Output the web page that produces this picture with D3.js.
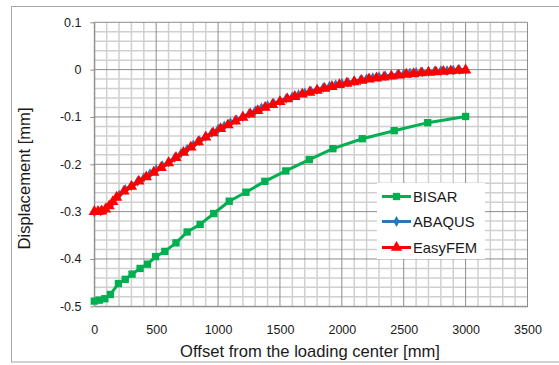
<!DOCTYPE html>
<html>
<head>
<meta charset="utf-8">
<script src="https://cdn.jsdelivr.net/npm/d3@7"></script>
<style>
  html, body { margin: 0; padding: 0; background: #fff; }
  svg { display: block; font-family: "Liberation Sans", Arial, sans-serif; }
</style>
</head>
<body>
<svg id="chart" width="559" height="365"></svg>
<script>
// Surface displacement vs. offset from the loading centre
const xTicks = [0, 500, 1000, 1500, 2000, 2500, 3000, 3500];
const yTicks = [0.1, 0, -0.1, -0.2, -0.3, -0.4, -0.5];

const bisarX = [0, 40, 85, 130, 195, 250, 305, 370, 430, 495, 570, 660, 750, 855, 965, 1090, 1225, 1378, 1547, 1737, 1928, 2165, 2423, 2694, 3000];
const bisarY = [-0.489, -0.487, -0.484, -0.475, -0.452, -0.443, -0.432, -0.420, -0.411, -0.395, -0.384, -0.366, -0.343, -0.327, -0.304, -0.278, -0.259, -0.236, -0.214, -0.190, -0.167, -0.146, -0.129, -0.112, -0.099];

const abaqusX = [0, 50, 100, 150, 200, 250, 300, 350, 400, 450, 500, 550, 600, 650, 700, 750, 800, 850, 900, 950, 1000, 1050, 1100, 1150, 1200, 1250, 1300, 1350, 1400, 1450, 1500, 1550, 1600, 1650, 1700, 1750, 1800, 1850, 1900, 1950, 2000, 2050, 2100, 2150, 2200, 2250, 2300, 2350, 2400, 2450, 2500, 2550, 2600, 2650, 2700, 2750, 2800, 2850, 2900, 2950, 3000];
const abaqusY = [-0.301, -0.299, -0.292, -0.279, -0.265, -0.253, -0.245, -0.236, -0.228, -0.220, -0.211, -0.203, -0.195, -0.186, -0.177, -0.168, -0.159, -0.150, -0.141, -0.133, -0.126, -0.119, -0.112, -0.106, -0.099, -0.093, -0.087, -0.081, -0.076, -0.071, -0.066, -0.061, -0.057, -0.053, -0.049, -0.045, -0.042, -0.038, -0.035, -0.032, -0.029, -0.027, -0.024, -0.022, -0.019, -0.017, -0.015, -0.013, -0.012, -0.010, -0.009, -0.007, -0.006, -0.005, -0.004, -0.003, -0.002, -0.002, -0.001, 0.000, 0.000];

const easyX = [0, 30, 60, 90, 120, 150, 180, 240, 300, 360, 420, 480, 540, 600, 660, 720, 780, 840, 900, 960, 1020, 1080, 1140, 1200, 1260, 1320, 1380, 1440, 1500, 1560, 1620, 1680, 1740, 1800, 1860, 1920, 1980, 2040, 2100, 2160, 2220, 2280, 2340, 2400, 2460, 2520, 2580, 2640, 2700, 2760, 2820, 2880, 2940, 3000];
const easyY = [-0.300, -0.300, -0.299, -0.295, -0.288, -0.279, -0.270, -0.257, -0.247, -0.236, -0.227, -0.217, -0.207, -0.197, -0.186, -0.175, -0.164, -0.153, -0.143, -0.134, -0.125, -0.117, -0.109, -0.101, -0.094, -0.087, -0.080, -0.074, -0.068, -0.062, -0.057, -0.052, -0.048, -0.044, -0.040, -0.036, -0.032, -0.029, -0.026, -0.023, -0.020, -0.018, -0.016, -0.014, -0.012, -0.010, -0.009, -0.007, -0.006, -0.005, -0.004, -0.003, -0.002, -0.001];

const seriesNames = ["BISAR", "ABAQUS", "EasyFEM"];
const seriesColors = ["#00b050", "#2e75b6", "#ff0000"];

const svg = d3.select("#chart");

// Chart area frame
svg.append("rect")
  .attr("x", 11.5).attr("y", 6.5).attr("width", 560).attr("height", 355.5)
  .attr("fill", "#fff").attr("stroke", "#a6a6a6").attr("stroke-width", 1);

const plotLeft = 94.3, plotRight = 527.5, plotTop = 22.3, plotBottom = 306.3;
const x = d3.scaleLinear().domain([0, 3500]).range([plotLeft, plotRight]);
const y = d3.scaleLinear().domain([-0.5, 0.1]).range([plotBottom, plotTop]);

const grid = svg.append("g");
// minor grid: every 100 mm and every 0.02 mm
const xMinor = d3.range(0, 3501, 100).filter(v => v % 500 !== 0);
const yMinor = d3.range(-50, 11, 2).filter(v => v % 10 !== 0).map(v => v / 100);
grid.selectAll(".xm").data(xMinor).join("line")
  .attr("x1", d => x(d)).attr("x2", d => x(d)).attr("y1", plotTop).attr("y2", plotBottom)
  .attr("stroke", "#d0d0d0").attr("stroke-width", 1.5);
grid.selectAll(".ym").data(yMinor).join("line")
  .attr("x1", plotLeft).attr("x2", plotRight).attr("y1", d => y(d)).attr("y2", d => y(d))
  .attr("stroke", "#d0d0d0").attr("stroke-width", 1.5);
// major grid
grid.selectAll(".xM").data(xTicks).join("line")
  .attr("x1", d => x(d)).attr("x2", d => x(d)).attr("y1", plotTop).attr("y2", plotBottom)
  .attr("stroke", "#8c8c8c").attr("stroke-width", 1);
grid.selectAll(".yM").data(yTicks).join("line")
  .attr("x1", plotLeft).attr("x2", plotRight).attr("y1", d => y(d)).attr("y2", d => y(d))
  .attr("stroke", "#8c8c8c").attr("stroke-width", 1);

// axes
const fmtY = d => d === 0 ? "0" : String(+d.toFixed(1));
const yAxis = svg.append("g")
  .attr("transform", `translate(${plotLeft},0)`)
  .call(d3.axisLeft(y).tickValues(yTicks).tickFormat(fmtY).tickSize(4).tickSizeOuter(0).tickPadding(8.8));
yAxis.select(".domain").attr("stroke", "#8c8c8c");
yAxis.selectAll(".tick line").attr("stroke", "#8c8c8c");
yAxis.selectAll("text").attr("font-size", 12.5).attr("fill", "#1a1a1a")
  .attr("font-family", "'Liberation Sans', Arial, sans-serif");

const xAxis = svg.append("g")
  .attr("transform", `translate(0,${plotBottom})`)
  .call(d3.axisBottom(x).tickValues(xTicks).tickFormat(d3.format("d")).tickSize(0).tickPadding(19.3));
xAxis.select(".domain").attr("stroke", "#8c8c8c");
xAxis.selectAll("text").attr("font-size", 12.5).attr("fill", "#1a1a1a")
  .attr("font-family", "'Liberation Sans', Arial, sans-serif");

// axis titles
svg.append("text")
  .attr("x", 310).attr("y", 356.5).attr("text-anchor", "middle")
  .attr("font-size", 16.6).attr("fill", "#1a1a1a")
  .text("Offset from the loading center [mm]");
svg.append("text")
  .attr("transform", "translate(30,178.5) rotate(-90)")
  .attr("text-anchor", "middle")
  .attr("font-size", 16.6).attr("fill", "#1a1a1a")
  .text("Displacement [mm]");

// marker shapes
const markers = [
  d3.symbol().type(d3.symbolSquare).size(54),
  d3.symbol().type(d3.symbolDiamond).size(34),
  d3.symbol().type(d3.symbolTriangle).size(56)
];

const line = d3.line().x(d => x(d[0])).y(d => y(d[1]));
const seriesData = [
  d3.zip(bisarX, bisarY),
  d3.zip(abaqusX, abaqusY),
  d3.zip(easyX, easyY)
];

seriesData.forEach((pts, i) => {
  const g = svg.append("g");
  g.append("path").datum(pts)
    .attr("d", line).attr("fill", "none")
    .attr("stroke", seriesColors[i]).attr("stroke-width", i === 2 ? 4 : 3)
    .attr("stroke-linejoin", "round");
  g.selectAll("path.m").data(pts).join("path")
    .attr("class", "m")
    .attr("transform", d => `translate(${x(d[0])},${y(d[1])})`)
    .attr("d", markers[i]())
    .attr("fill", seriesColors[i]);
});

// legend
const legend = svg.append("g");
legend.append("rect")
  .attr("x", 377).attr("y", 183).attr("width", 108).attr("height", 76)
  .attr("fill", "#fff");
const legendY = [196.5, 221.5, 247.5];
seriesNames.forEach((name, i) => {
  const ly = legendY[i];
  legend.append("line")
    .attr("x1", 382).attr("x2", 411).attr("y1", ly).attr("y2", ly)
    .attr("stroke", seriesColors[i]).attr("stroke-width", 3);
  legend.append("path")
    .attr("transform", `translate(396.5,${ly})`)
    .attr("d", markers[i]())
    .attr("fill", seriesColors[i]);
  legend.append("text")
    .attr("x", 413).attr("y", ly + 5.5)
    .attr("font-size", 14.8).attr("fill", "#1a1a1a")
    .text(name);
});
</script>
</body>
</html>
